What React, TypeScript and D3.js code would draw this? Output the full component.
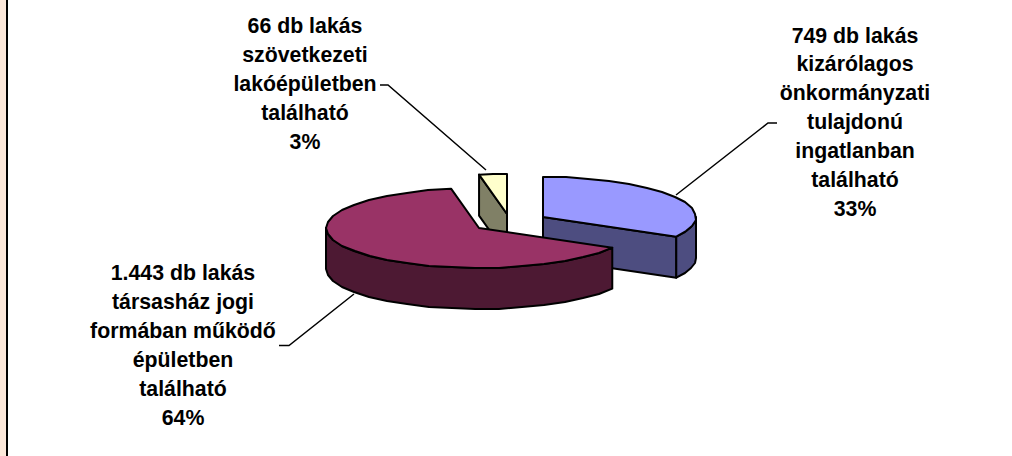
import React from "react";
import * as d3 from "d3";

const W = 1012;
const H = 456;

const categories = ["önkormányzati", "társasház", "szövetkezeti"];
const seriesValues = [749, 1443, 66];
const topColors = ["#9999FF", "#993366", "#FFFFCC"];
const sideColors = ["#4D4D80", "#4D1933", "#808066"];
const centers: [number, number][] = [[543, 217], [479, 228], [507, 214]];
const labelLines = [
  ["749 db lakás", "kizárólagos", "önkormányzati", "tulajdonú", "ingatlanban", "található", "33%"],
  ["1.443 db lakás", "társasház jogi", "formában működő", "épületben", "található", "64%"],
  ["66 db lakás", "szövetkezeti", "lakóépületben", "található", "3%"],
];
const labelAnchors: [number, number][] = [[855, 42.5], [183, 280], [305, 33]];
const leaders: [number, number][][] = [
  [[777, 123], [768, 123], [676, 195]],
  [[279, 345.5], [289, 345.5], [354, 294]],
  [[380, 85], [388, 85], [486, 170]],
];

const RX = 153;
const RY = 40;
const DEPTH = 41;
const LINE_H = 28.9;
const STEP = Math.PI / 20;

type Pt = [number, number];

const pieGen = d3.pie<number>().sort(null).startAngle(0).endAngle(2 * Math.PI);
const arcs = pieGen(seriesValues);
const line = d3.line<Pt>();
const leaderLine = d3.line<Pt>();

const project = (c: Pt, a: number, dy = 0): Pt => [
  c[0] + RX * Math.sin(a),
  c[1] - RY * Math.cos(a) + dy,
];

// Faceted rim, as in the original low-resolution rendering
function rim(c: Pt, a0: number, a1: number, dy = 0): Pt[] {
  const n = Math.max(1, Math.ceil((a1 - a0) / STEP));
  return d3.range(n + 1).map((i) => {
    const p = project(c, a0 + ((a1 - a0) * i) / n, dy);
    const exact = i === 0 || i === n;
    return exact ? p : ([Math.round(p[0]), Math.round(p[1])] as Pt);
  });
}

const closed = (pts: Pt[]) => line(pts) + "Z";

export default function App() {
  const stroke = { stroke: "#000", strokeWidth: 2, strokeLinejoin: "round" as const };
  const order = [2, 0, 1];
  return (
    <svg
      width={W}
      height={H}
      viewBox={`0 0 ${W} ${H}`}
      style={{ position: "absolute", left: 0, top: 0, background: "#fff" }}
    >
      <rect x={0} y={0} width={6} height={H} fill="#FCE8DA" />
      <rect x={6} y={0} width={2} height={H} fill="#000" />

      {order.map((i) => {
        const c = centers[i];
        const { startAngle: a0, endAngle: a1 } = arcs[i];
        const top = [c as Pt, ...rim(c, a0, a1)];
        const wallStart = Math.max(a0, Math.PI / 2);
        const wallEnd = Math.min(a1, (3 * Math.PI) / 2);
        const hasWall = wallEnd > wallStart;
        const outer = hasWall
          ? [...rim(c, wallStart, wallEnd), ...rim(c, wallStart, wallEnd, DEPTH).reverse()]
          : null;
        // Cut faces turned to the viewer
        const cuts: Pt[][] = [];
        if (i === 0) {
          const p = project(c, a1);
          cuts.push([c, p, [p[0], p[1] + DEPTH], [c[0], c[1] + DEPTH]]);
        }
        if (i === 2) {
          const p = project(c, a0);
          cuts.push([c, p, [p[0], p[1] + DEPTH], [c[0], c[1] + DEPTH]]);
        }
        return (
          <g key={categories[i]}>
            {cuts.map((f, k) => (
              <path key={k} d={closed(f)} fill={sideColors[i]} {...stroke} />
            ))}
            {outer && <path d={closed(outer)} fill={sideColors[i]} {...stroke} />}
            <path d={closed(top)} fill={topColors[i]} {...stroke} />
          </g>
        );
      })}

      {leaders.map((l, i) => (
        <path key={i} d={leaderLine(l) as string} fill="none" stroke="#000" strokeWidth={1.5} />
      ))}

      {labelLines.map((lines, i) => (
        <text
          key={i}
          textAnchor="middle"
          fontFamily="'Liberation Sans', Arial, sans-serif"
          fontWeight="bold"
          fontSize={21.3}
          fill="#000"
        >
          {lines.map((t, k) => (
            <tspan key={k} x={labelAnchors[i][0]} y={labelAnchors[i][1] + k * LINE_H}>
              {t}
            </tspan>
          ))}
        </text>
      ))}
    </svg>
  );
}
